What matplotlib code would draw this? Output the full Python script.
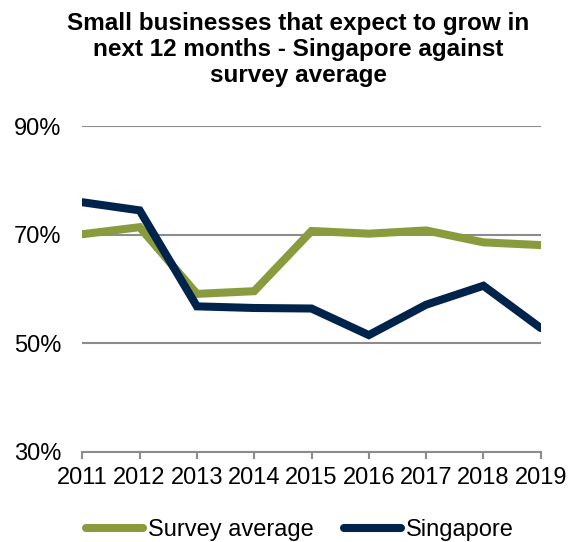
import matplotlib
matplotlib.use("Agg")
import matplotlib.pyplot as plt
from matplotlib.ticker import FuncFormatter

years = ["2011", "2012", "2013", "2014", "2015", "2016", "2017", "2018", "2019"]
survey_average = [70.1, 71.4, 59.1, 59.6, 70.7, 70.2, 70.8, 68.6, 68.1]
singapore = [76.0, 74.5, 56.8, 56.5, 56.4, 51.5, 57.1, 60.6, 52.8]
y_ticks = [30, 50, 70, 90]

title = "Small businesses that expect to grow in\nnext 12 months - Singapore against\nsurvey average"

plt.rcParams['font.family'] = ['Liberation Sans', 'DejaVu Sans']

W, H = 569, 542
fig = plt.figure(figsize=(W / 100, H / 100), dpi=100)
ax = fig.add_axes([82.3 / W, 1 - 451.7 / H, (540.7 - 82.3) / W, (451.7 - 126.3) / H])

x = list(range(len(years)))
green = "#8A9B3D"
navy = "#00234B"
ax.plot(x, survey_average, color=green, lw=5.8, solid_joinstyle='miter', solid_capstyle='round',
        label="Survey average", zorder=3)
ax.plot(x, singapore, color=navy, lw=5.8, solid_joinstyle='miter', solid_capstyle='round',
        label="Singapore", zorder=4)

ax.set_xlim(0, len(years) - 1)
ax.set_ylim(30, 90)
ax.set_yticks(y_ticks)
ax.yaxis.set_major_formatter(FuncFormatter(lambda v, p: f"{v:.0f}%"))
ax.set_xticks(x)
ax.set_xticklabels(years)

for s in ["top", "right", "left"]:
    ax.spines[s].set_visible(False)
ax.spines["bottom"].set_color("#8c8c8c")
ax.spines["bottom"].set_linewidth(1.5)
ax.tick_params(axis='x', length=5, width=1.5, color="#8c8c8c", labelsize=17, pad=6)
ax.tick_params(axis='y', length=0, labelsize=17, pad=15)
ax.grid(axis='y', color="#8c8c8c", lw=1.5)
ax.set_axisbelow(True)

fig.text(298 / W, 1 - 12 / H, title, ha='center', va='top', fontsize=17.5, fontweight='bold',
         linespacing=1.18)

leg = fig.legend(loc='center', bbox_to_anchor=(300 / W, 1 - 530 / H), ncol=2, frameon=False,
                 fontsize=17, handlelength=2.4, handletextpad=0.2, columnspacing=1.3,
                 borderpad=0, borderaxespad=0)

fig.savefig("out.png", dpi=100)
